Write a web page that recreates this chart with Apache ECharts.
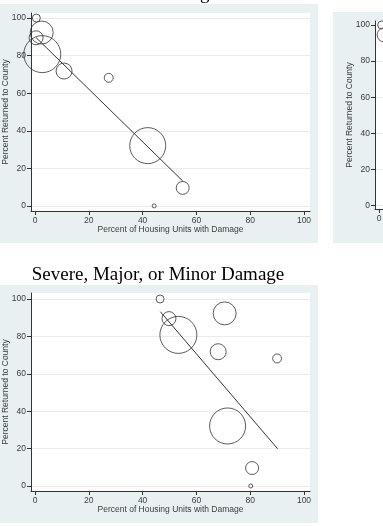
<!DOCTYPE html>
<html>
<head>
<meta charset="utf-8">
<script src="https://cdn.jsdelivr.net/npm/echarts@6/dist/echarts.min.js"></script>
<style>
html, body { margin: 0; padding: 0; background: #fff; }
#main { width: 383px; height: 526px; }
</style>
</head>
<body>
<div id="main"></div>
<script>
// one entry per county, same order in every array
const returnedPct = [100, 89.5, 92.3, 80.8, 71.8, 68.2, 32.1, 9.6, 0]
const severePct = [0.5, 0.4, 2.5, 2.7, 10.8, 27.4, 41.9, 54.9, 44.3]
const anyDamagePct = [46.5, 49.8, 70.5, 53.3, 68.1, 90.0, 71.6, 80.7, 80.2]
const weights = [16, 49, 132, 342, 64, 20, 324, 42, 4]

// only the left edge of the "severe or major" panel is in the picture
const majorPct = [1.0, 1.9]
const majorReturned = [100, 94.5]
const majorWeights = [16, 49]

// weighted fit lines, end points
const severeFit = [[0.4, 89.6], [54.9, 13.3]]
const anyDamageFit = [[46.6, 93.2], [90.2, 19.9]]

const tickValues = [0, 20, 40, 60, 80, 100]

const labelFont = {fontFamily: 'Liberation Sans', fontSize: 8.5, color: '#3c3c3c'}
const axisColor = '#333'

function points(xs, ys, ws) {
  let arr = []
  for (let i = 0; i < xs.length; i++) {
    arr.push([xs[i], ys[i], ws[i]])
  }
  return arr
}

function makeXAxis(gridIndex) {
  return {
    type: 'value',
    gridIndex: gridIndex,
    min: -1.49,
    max: 102.23,
    name: 'Percent of Housing Units with Damage',
    nameLocation: 'middle',
    nameGap: 14,
    nameMoveOverlap: false,
    nameTextStyle: labelFont,
    axisLine: {show: true, onZero: false, lineStyle: {color: axisColor, width: 1}},
    axisTick: {show: true, length: 4, customValues: tickValues, lineStyle: {color: axisColor}},
    axisLabel: Object.assign({margin: 5, customValues: tickValues}, labelFont),
    splitLine: {show: false}
  }
}

function makeYAxis(gridIndex, min, max) {
  return {
    type: 'value',
    gridIndex: gridIndex,
    min: min,
    max: max,
    name: 'Percent Returned to County',
    nameLocation: 'middle',
    nameGap: 21,
    nameMoveOverlap: false,
    nameTextStyle: labelFont,
    axisLine: {show: true, onZero: false, lineStyle: {color: axisColor, width: 1}},
    axisTick: {show: true, length: 4, customValues: tickValues, lineStyle: {color: axisColor}},
    axisLabel: Object.assign({margin: 5, customValues: tickValues}, labelFont),
    splitLine: {show: true, lineStyle: {color: '#ececec', width: 1}}
  }
}

function makeGrid(left, top, height) {
  return {
    left: left,
    top: top,
    width: 279,
    height: height,
    show: true,
    backgroundColor: '#fff',
    borderWidth: 0,
    containLabel: false,
    outerBoundsMode: 'none'
  }
}

function bubbles(data, idx) {
  return {
    type: 'scatter',
    xAxisIndex: idx,
    yAxisIndex: idx,
    data: data,
    symbol: 'circle',
    symbolSize: function (v) { return 2 * Math.sqrt(v[2]) },
    itemStyle: {color: 'rgba(0,0,0,0)', borderColor: '#333', borderWidth: 1},
    emphasis: {disabled: true},
    silent: true
  }
}

function fitLine(data, idx) {
  return {
    type: 'line',
    xAxisIndex: idx,
    yAxisIndex: idx,
    data: data,
    symbol: 'none',
    lineStyle: {color: '#333', width: 1},
    silent: true
  }
}

function panel(x, y, w, h) {
  return {
    type: 'rect',
    z: -10,
    silent: true,
    shape: {x: x, y: y, width: w, height: h},
    style: {fill: '#e9f0f2'}
  }
}

function heading(text, x, y) {
  return {
    type: 'text',
    z: 10,
    silent: true,
    style: {
      text: text,
      x: x,
      y: y,
      align: 'center',
      verticalAlign: 'middle',
      fill: '#000',
      font: '19px "Liberation Serif"'
    }
  }
}

const myChart = echarts.init(document.getElementById('main'), null, {renderer: 'canvas'})

const option = {
  animation: false,
  backgroundColor: '#fff',
  grid: [
    makeGrid(31, 13, 198),
    makeGrid(31, 293, 198),
    makeGrid(375, 21, 188)
  ],
  xAxis: [makeXAxis(0), makeXAxis(1), makeXAxis(2)],
  yAxis: [makeYAxis(0, -2.7, 102.7), makeYAxis(1, -2.67, 103.2), makeYAxis(2, -1.8, 102.2)],
  graphic: [
    panel(0, 4, 318, 239),
    panel(0, 285, 318, 238),
    panel(333, 12, 60, 231),
    heading('Severe Damage', 158, -6),
    heading('Severe, Major, or Minor Damage', 158, 275)
  ],
  series: [
    bubbles(points(severePct, returnedPct, weights), 0),
    fitLine(severeFit, 0),
    bubbles(points(anyDamagePct, returnedPct, weights), 1),
    fitLine(anyDamageFit, 1),
    bubbles(points(majorPct, majorReturned, majorWeights), 2)
  ]
}

myChart.setOption(option)
</script>
</body>
</html>
